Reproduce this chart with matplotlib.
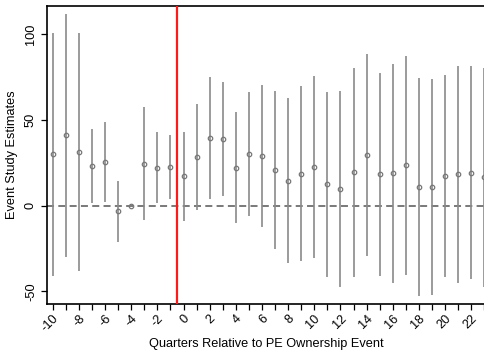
import numpy as np
import matplotlib
matplotlib.use('Agg')
from matplotlib import pyplot as plt
from matplotlib import transforms

plt.rcParams['font.family'] = ['Liberation Sans', 'DejaVu Sans']

# quarters relative to event
quarters = list(range(-10, 24))
estimates = [30.0, 41.1, 31.3, 23.0, 25.5, -3.3, 0.0, 24.5, 22.2, 22.8,
             17.2, 28.2, 39.3, 38.9, 22.2, 30.0, 29.0, 20.8, 14.4, 18.7,
             22.8, 12.5, 9.7, 19.5, 29.8, 18.3, 18.9, 23.6, 10.9, 10.9,
             17.2, 18.5, 19.3, 16.6]
ci_upper = [100.6, 111.7, 100.6, 44.6, 48.8, 14.6, None, 57.8, 43.0, 41.2,
            43.2, 59.2, 74.9, 72.2, 54.5, 66.3, 70.4, 66.9, 62.7, 69.8,
            75.8, 66.3, 66.9, 80.2, 88.5, 77.2, 82.7, 87.2, 74.3, 74.1,
            76.1, 81.5, 81.5, 80.5]
ci_lower = [-40.8, -29.8, -37.9, 1.4, 2.2, -21.2, None, -8.3, 1.4, 4.1,
            -8.7, -2.5, 3.9, 5.5, -9.9, -6.2, -12.6, -25.4, -33.6, -32.4,
            -30.5, -41.4, -47.6, -41.8, -29.5, -40.8, -45.1, -40.3, -52.7, -52.1,
            -41.8, -44.9, -42.9, -47.6]
event_line = -0.5

fig = plt.figure(figsize=(4.85, 3.51), dpi=100)
ax = fig.add_axes([46.7 / 485, 1 - 304 / 351, 1 - 46.7 / 485, (304 - 6) / 351])

ax.axhline(0, color='#555555', lw=1.1, dashes=(4.6, 2.8), zorder=1)

for q, lo, hi in zip(quarters, ci_lower, ci_upper):
    if lo is None:
        continue
    ax.vlines(q, lo, hi, color='#8a8a8a', lw=1.2, zorder=2)

ax.plot(quarters, estimates, 'o', ms=3.2, mfc='none', mec='#777777',
        mew=0.9, zorder=3)

ax.axvline(event_line, color='#ff1a1a', lw=1.6, zorder=4)

ax.set_xlim(-10.46, 23.05)
ax.set_ylim(-57.3, 116.5)

fs = 9.2
ax.set_xticks(quarters, minor=True)
ax.set_xticks(range(-10, 24, 2))
ax.set_xticklabels([str(v) for v in range(-10, 24, 2)], rotation=45,
                   ha='right', va='center', rotation_mode='anchor',
                   fontsize=fs)
ax.tick_params(axis='x', which='both', length=4, width=0.9, direction='out',
               pad=5)
shift = transforms.ScaledTranslation(4 / 100, 0, fig.dpi_scale_trans)
for lbl in ax.get_xticklabels():
    lbl.set_transform(lbl.get_transform() + shift)
ax.set_yticks([-50, 0, 50, 100])
ax.set_yticklabels(['-50', '0', '50', '100'], rotation=90, va='center',
                   fontsize=fs)
ax.tick_params(axis='y', length=4, width=0.9, pad=3)

ax.spines['right'].set_visible(False)
for s in ['left', 'bottom', 'top']:
    ax.spines[s].set_linewidth(1.2)

ax.set_xlabel('Quarters Relative to PE Ownership Event', fontsize=fs,
              labelpad=3)
ax.set_ylabel('Event Study Estimates', fontsize=fs, labelpad=5)

fig.savefig('out.png', dpi=100)
